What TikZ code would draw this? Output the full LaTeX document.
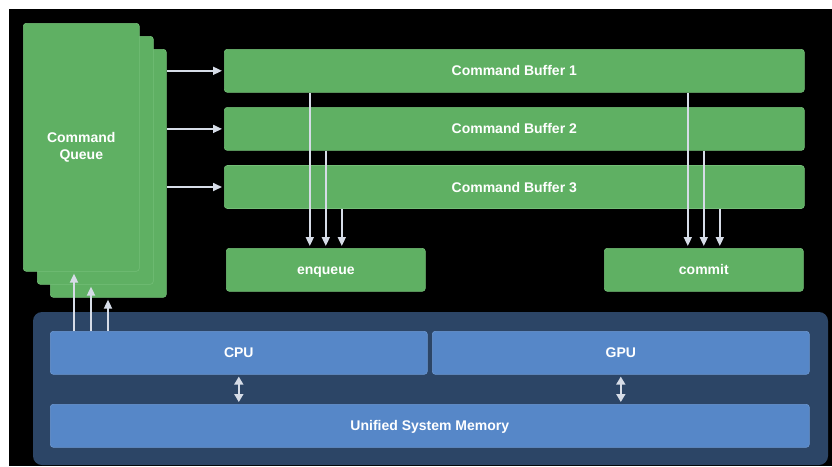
\documentclass[tikz,border=0pt]{standalone}
\usepackage{fontspec}
\setmainfont{Liberation Sans}
\usepackage{xcolor}
\usepackage{tikz}
\usetikzlibrary{positioning,arrows.meta}

\definecolor{cmdgreen}{HTML}{5FB063}
\definecolor{cmdedge}{HTML}{74BE77}
\definecolor{procblue}{HTML}{5687C8}
\definecolor{procedge}{HTML}{6D98D2}
\definecolor{panelblue}{HTML}{2C4566}
\definecolor{linkgrey}{HTML}{D6DCE7}

\begin{document}
\begin{tikzpicture}[
				x=1pt, y=-1pt,
				greenbox/.style={rectangle, fill=cmdgreen, draw=cmdedge, line width=0.6pt, rounded corners=3pt, text=white, font=\bfseries\fontsize{14}{17}\selectfont, inner sep=0pt, text height=10pt, text depth=0pt},
				cardbox/.style={greenbox, minimum width=116pt, minimum height=248pt, anchor=north west, align=center, text height=, text depth=},
				bufbox/.style={greenbox, minimum width=580pt, minimum height=43pt},
				endbox/.style={greenbox, minimum width=199pt, minimum height=43pt, anchor=north west},
				procbox/.style={rectangle, fill=procblue, draw=procedge, line width=0.6pt, rounded corners=3pt, text=white, font=\bfseries\fontsize{14}{17}\selectfont, minimum height=43pt, inner sep=0pt, text height=10pt, text depth=0pt, anchor=north west},
				link/.style={draw=linkgrey, line width=1.7pt, -{Triangle[length=9pt,width=8pt]}, shorten >=2pt},
				dlink/.style={draw=linkgrey, line width=1.7pt, {Triangle[length=8pt,width=9pt]}-{Triangle[length=8pt,width=9pt]}, shorten >=2pt, shorten <=2pt},
				node distance = 14.5pt,
				]
				%Background
				\fill[white] (0,0) rectangle (832,466);
				\fill[black] (9,9) rectangle (832,466);
				\fill[panelblue] (33,312) [rounded corners=9pt] rectangle (828,465);
				
				%Nodes
				\node[cardbox](queue3) at (50,49){};
				\node[cardbox](queue2) at (37,36){};
				\node[cardbox](queue1) at (23,23){Command\\Queue};
				
				\node[bufbox, anchor=north west](buf1) at (224,49){Command Buffer 1};
				\node[bufbox](buf2)[below=of buf1]{Command Buffer 2};
				\node[bufbox](buf3)[below=of buf2]{Command Buffer 3};
				
				\node[endbox](enqueue) at (226,248){enqueue};
				\node[endbox](commit) at (604,248){commit};
				
				\node[procbox, minimum width=377pt](cpu) at (50,331){CPU};
				\node[procbox, minimum width=377pt](gpu) at (432,331){GPU};
				\node[procbox, minimum width=759pt](mem) at (50,404){Unified System Memory};
				
				\coordinate(enq1) at ([xshift=-16pt]enqueue.north);
				\coordinate(enq2) at (enqueue.north);
				\coordinate(enq3) at ([xshift=16pt]enqueue.north);
				\coordinate(com1) at ([xshift=-16pt]commit.north);
				\coordinate(com2) at (commit.north);
				\coordinate(com3) at ([xshift=16pt]commit.north);
				\coordinate(up1) at ([xshift=24pt]cpu.north west);
				\coordinate(up2) at ([xshift=41pt]cpu.north west);
				\coordinate(up3) at ([xshift=58pt]cpu.north west);
				
				%Lines
				
				\draw[link] (queue3.east |- buf1.west) -- (buf1.west);
				\draw[link] (queue3.east |- buf2.west) -- (buf2.west);
				\draw[link] (queue3.east |- buf3.west) -- (buf3.west);
				
				\draw[link] (enq1 |- buf1.south) -- (enq1);
				\draw[link] (enq2 |- buf2.south) -- (enq2);
				\draw[link] (enq3 |- buf3.south) -- (enq3);
				\draw[link] (com1 |- buf1.south) -- (com1);
				\draw[link] (com2 |- buf2.south) -- (com2);
				\draw[link] (com3 |- buf3.south) -- (com3);
				
				\draw[link] (up1) -- (up1 |- queue1.south);
				\draw[link] (up2) -- (up2 |- queue2.south);
				\draw[link] (up3) -- (up3 |- queue3.south);
				
				\draw[dlink] (cpu.south) -- (cpu.south |- mem.north);
				\draw[dlink] (gpu.south) -- (gpu.south |- mem.north);
				
			\end{tikzpicture}
\end{document}
